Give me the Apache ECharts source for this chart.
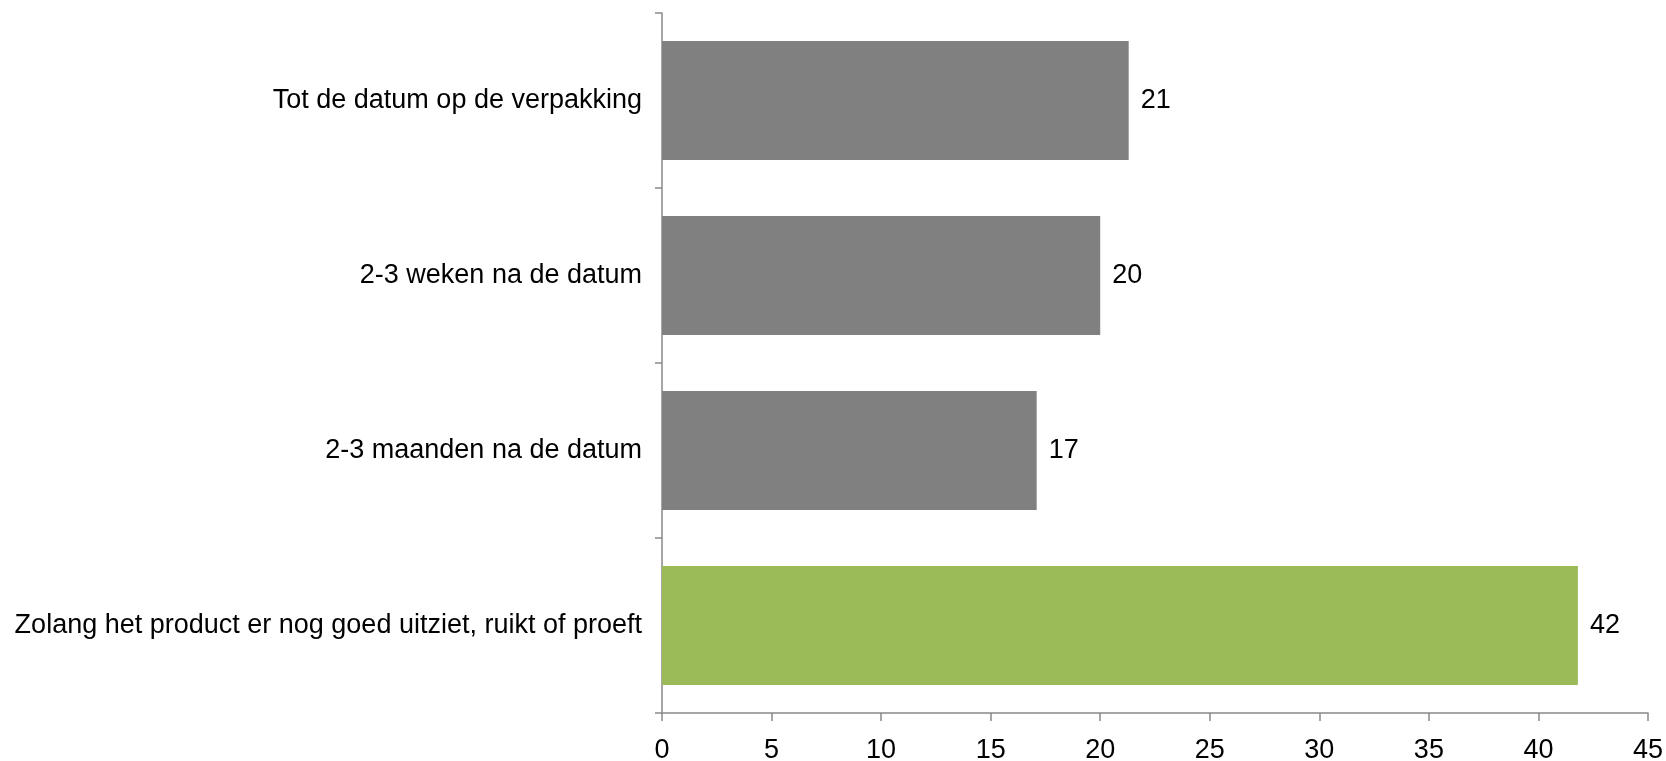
<!DOCTYPE html>
<html>
<head>
<meta charset="utf-8">
<script src="https://cdn.jsdelivr.net/npm/echarts@6/dist/echarts.min.js"></script>
<style>
  html, body { margin: 0; padding: 0; background: #fff; }
  #chart { width: 1666px; height: 761px; }
</style>
</head>
<body>
<div id="chart"></div>
<script>
// categories, top to bottom
const categories = [
  'Tot de datum op de verpakking',
  '2-3 weken na de datum',
  '2-3 maanden na de datum',
  'Zolang het product er nog goed uitziet, ruikt of proeft'
]
const values = [21.3, 20.0, 17.1, 41.8]
const barColors = ['#808080', '#808080', '#808080', '#9BBB59']
const xTicks = { min: 0, max: 45, interval: 5 }

const chart = echarts.init(document.getElementById('chart'))

const axisGray = '#898989'
const font = '"Liberation Sans", Arial, sans-serif'

chart.setOption({
  animation: false,
  grid: { left: 662, right: 18, top: 13, bottom: 48, outerBoundsMode: 'none' },
  xAxis: {
    type: 'value',
    min: xTicks.min,
    max: xTicks.max,
    interval: xTicks.interval,
    axisLine: { show: true, lineStyle: { color: axisGray, width: 1.5 } },
    axisTick: { show: true, length: 8, lineStyle: { color: axisGray, width: 1.5 } },
    splitLine: { show: false },
    axisLabel: { color: '#000', fontSize: 27, fontFamily: font, margin: 24 }
  },
  yAxis: {
    type: 'category',
    data: categories,
    inverse: true,
    axisLine: { show: true, lineStyle: { color: axisGray, width: 1.5 } },
    axisTick: { show: true, length: 7, lineStyle: { color: axisGray, width: 1.5 } },
    axisLabel: { color: '#000', fontSize: 27, fontFamily: font, margin: 20 }
  },
  series: [{
    type: 'bar',
    data: values.map((v, i) => ({ value: v, itemStyle: { color: barColors[i] } })),
    barCategoryGap: '32%',
    label: {
      show: true,
      position: 'right',
      distance: 12,
      color: '#000',
      fontSize: 27,
      fontFamily: font,
      formatter: p => Math.round(p.value)
    }
  }]
})
</script>
</body>
</html>
